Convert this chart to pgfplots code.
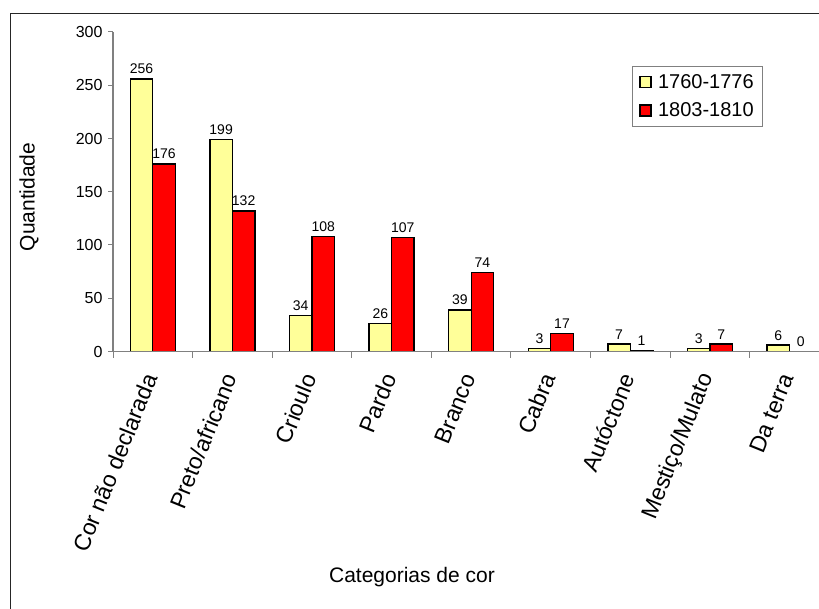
\documentclass[border=0pt]{standalone}
\usepackage{pgfplots}
\pgfplotsset{compat=1.18}
\usepackage{fontspec}
\setmainfont{Liberation Sans}
\definecolor{lightyel}{HTML}{FFFF99}
\definecolor{axgray}{HTML}{808080}
\begin{document}
\begin{tikzpicture}
\useasboundingbox (0,0) rectangle (819bp,609bp);
\draw[line width=1bp, black!85] (10bp,-5bp) -- (10bp,595bp) -- (830bp,595bp);
\begin{axis}[
  at={(113bp,257.5bp)}, anchor=south west,
  scale only axis, width=706bp, height=319.5bp,
  xmin=-0.5, xmax=8.37, ymin=0, ymax=300,
  axis x line=bottom, axis y line=left,
  axis line style={-, axgray, line width=1.3bp},
  axis on top,
  ybar=0pt, bar width=22.5bp,
  ytick={0,50,...,300},
  xtick={0,...,8},
  xticklabels={Cor não declarada,Preto/africano,Crioulo,Pardo,Branco,Cabra,Autóctone,Mestiço/Mulato,Da terra},
  major x tick style={draw=none},
  minor xtick={-0.5,0.5,...,7.5},
  tick align=outside,
  minor tick length=6bp, major tick length=5bp,
  tick style={axgray, line width=1bp},
  /pgf/number format/assume math mode=true,
  yticklabel style={font=\fontsize{16bp}{19bp}\selectfont, xshift=-2bp},
  xticklabel style={font=\fontsize{23bp}{27bp}\selectfont, xshift=-1bp, yshift=-15bp, rotate=68, anchor=east},
  nodes near coords,
  every node near coord/.append style={font=\fontsize{14bp}{17bp}\selectfont, black, yshift=1bp},
  xlabel={Categorias de cor},
  xlabel style={at={(rel axis cs:0.4235,0)}, anchor=center, yshift=-225.5bp, font=\fontsize{21bp}{25bp}\selectfont},
  ylabel={Quantidade},
  ylabel style={at={(rel axis cs:0,0.4836)}, anchor=center, yshift=84bp, font=\fontsize{21bp}{25bp}\selectfont},
  legend style={at={(rel axis cs:0.921,0.894)}, anchor=north east, draw=axgray, line width=1bp,
    font=\fontsize{20bp}{24bp}\selectfont, inner xsep=7bp, inner ysep=6bp, row sep=9bp},
  legend cell align=left,
]
\addplot[fill=lightyel, draw=black, line width=1.3bp,
  legend image code/.code={\draw[fill=lightyel, draw=black, line width=1.3bp] (0bp,-5.5bp) rectangle (11bp,5.5bp); \path[draw=none,fill=none] (0bp,0bp) (16bp,0bp);}]
  coordinates {(0,256) (1,199) (2,34) (3,26) (4,39) (5,3) (6,7) (7,3) (8,6)};
\addplot[fill=red, draw=black, line width=1.3bp,
  legend image code/.code={\draw[fill=red, draw=black, line width=1.3bp] (0bp,-5.5bp) rectangle (11bp,5.5bp); \path[draw=none,fill=none] (0bp,0bp) (16bp,0bp);}]
  coordinates {(0,176) (1,132) (2,108) (3,107) (4,74) (5,17) (6,1) (7,7) (8,0)};
\legend{1760-1776,1803-1810}
\end{axis}
\end{tikzpicture}
\end{document}
